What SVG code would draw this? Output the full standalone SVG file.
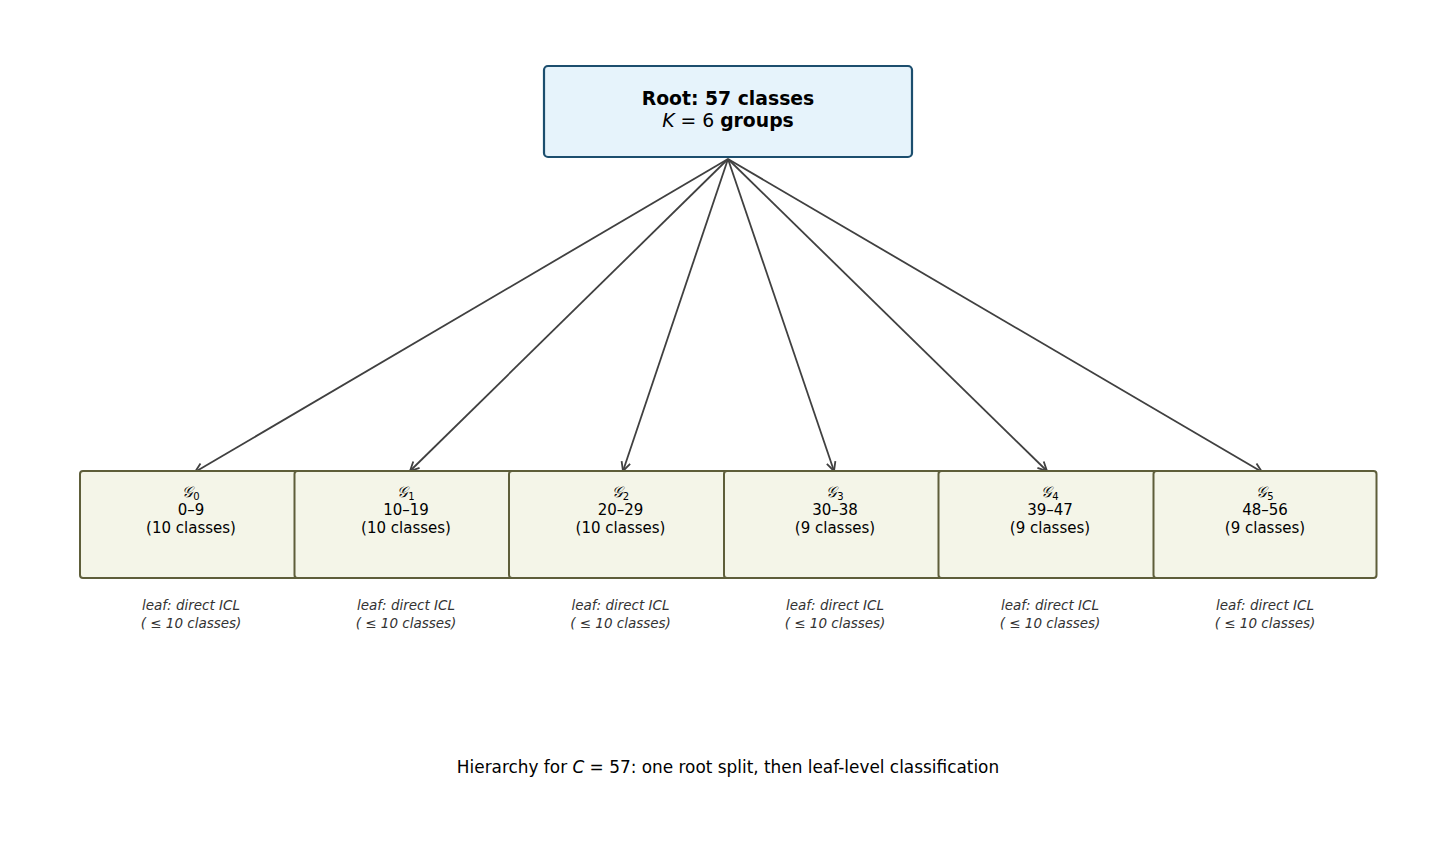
<svg xmlns="http://www.w3.org/2000/svg" width="1456" height="844" viewBox="0 0 1456 844">
<style>
text{font-family:"DejaVu Sans",sans-serif;text-anchor:middle;fill:#000}
.leaf{fill:#f4f5e8;stroke:#5e5e3a;stroke-width:2}
.t{font-size:15px}
.n{font-size:13.5px;font-style:italic;fill:#333}
.c{stroke:#404040;stroke-width:1.8;fill:none;marker-end:url(#a)}
</style>
<defs><marker id="a" markerWidth="12" markerHeight="12" refX="10" refY="6" orient="auto" markerUnits="userSpaceOnUse"><path d="M1,1.5 L10,6 L1,10.5" fill="none" stroke="#404040" stroke-width="1.8"/></marker></defs>
<rect width="1456" height="844" fill="#fff"/>
<g id="connectors">
<line class="c" x1="728" y1="159" x2="195" y2="472"/>
<line class="c" x1="728" y1="159" x2="410" y2="471"/>
<line class="c" x1="728" y1="159" x2="623" y2="471"/>
<line class="c" x1="728" y1="159" x2="834" y2="471"/>
<line class="c" x1="728" y1="159" x2="1047" y2="471"/>
<line class="c" x1="728" y1="159" x2="1262" y2="472"/>
</g>
<g id="root">
<rect x="544" y="66" width="368" height="91" rx="4" fill="#e6f3fb" stroke="#1c4e6e" stroke-width="2.2"/>
<text x="728" y="105" font-size="18.8" font-weight="bold">Root: 57 classes</text>
<text x="728" y="127" font-size="18.8"><tspan font-style="italic">K</tspan> = 6 <tspan font-weight="bold">groups</tspan></text>
</g>
<g id="g0"><rect class="leaf" x="80" y="471" width="223" height="107" rx="3"/><text x="191" y="497" class="t" font-style="italic">𝒢<tspan font-size="10" font-style="normal" dy="3">0</tspan></text><text x="191" y="515" class="t">0–9</text><text x="191" y="533" class="t">(10 classes)</text></g>
<g id="g1"><rect class="leaf" x="294.5" y="471" width="223" height="107" rx="3"/><text x="406" y="497" class="t" font-style="italic">𝒢<tspan font-size="10" font-style="normal" dy="3">1</tspan></text><text x="406" y="515" class="t">10–19</text><text x="406" y="533" class="t">(10 classes)</text></g>
<g id="g2"><rect class="leaf" x="509" y="471" width="223" height="107" rx="3"/><text x="620.5" y="497" class="t" font-style="italic">𝒢<tspan font-size="10" font-style="normal" dy="3">2</tspan></text><text x="620.5" y="515" class="t">20–29</text><text x="620.5" y="533" class="t">(10 classes)</text></g>
<g id="g3"><rect class="leaf" x="724" y="471" width="223" height="107" rx="3"/><text x="835" y="497" class="t" font-style="italic">𝒢<tspan font-size="10" font-style="normal" dy="3">3</tspan></text><text x="835" y="515" class="t">30–38</text><text x="835" y="533" class="t">(9 classes)</text></g>
<g id="g4"><rect class="leaf" x="938.5" y="471" width="223" height="107" rx="3"/><text x="1050" y="497" class="t" font-style="italic">𝒢<tspan font-size="10" font-style="normal" dy="3">4</tspan></text><text x="1050" y="515" class="t">39–47</text><text x="1050" y="533" class="t">(9 classes)</text></g>
<g id="g5"><rect class="leaf" x="1153.5" y="471" width="223" height="107" rx="3"/><text x="1265" y="497" class="t" font-style="italic">𝒢<tspan font-size="10" font-style="normal" dy="3">5</tspan></text><text x="1265" y="515" class="t">48–56</text><text x="1265" y="533" class="t">(9 classes)</text></g>
<g id="notes">
<text class="n" x="191" y="610">leaf: direct ICL</text><text class="n" x="191" y="628">( ≤ 10 classes)</text>
<text class="n" x="406" y="610">leaf: direct ICL</text><text class="n" x="406" y="628">( ≤ 10 classes)</text>
<text class="n" x="620.5" y="610">leaf: direct ICL</text><text class="n" x="620.5" y="628">( ≤ 10 classes)</text>
<text class="n" x="835" y="610">leaf: direct ICL</text><text class="n" x="835" y="628">( ≤ 10 classes)</text>
<text class="n" x="1050" y="610">leaf: direct ICL</text><text class="n" x="1050" y="628">( ≤ 10 classes)</text>
<text class="n" x="1265" y="610">leaf: direct ICL</text><text class="n" x="1265" y="628">( ≤ 10 classes)</text>
</g>
<text x="728" y="773" font-size="16.9" fill="#222">Hierarchy for <tspan font-style="italic">C</tspan> = 57: one root split, then leaf-level classification</text>
</svg>
